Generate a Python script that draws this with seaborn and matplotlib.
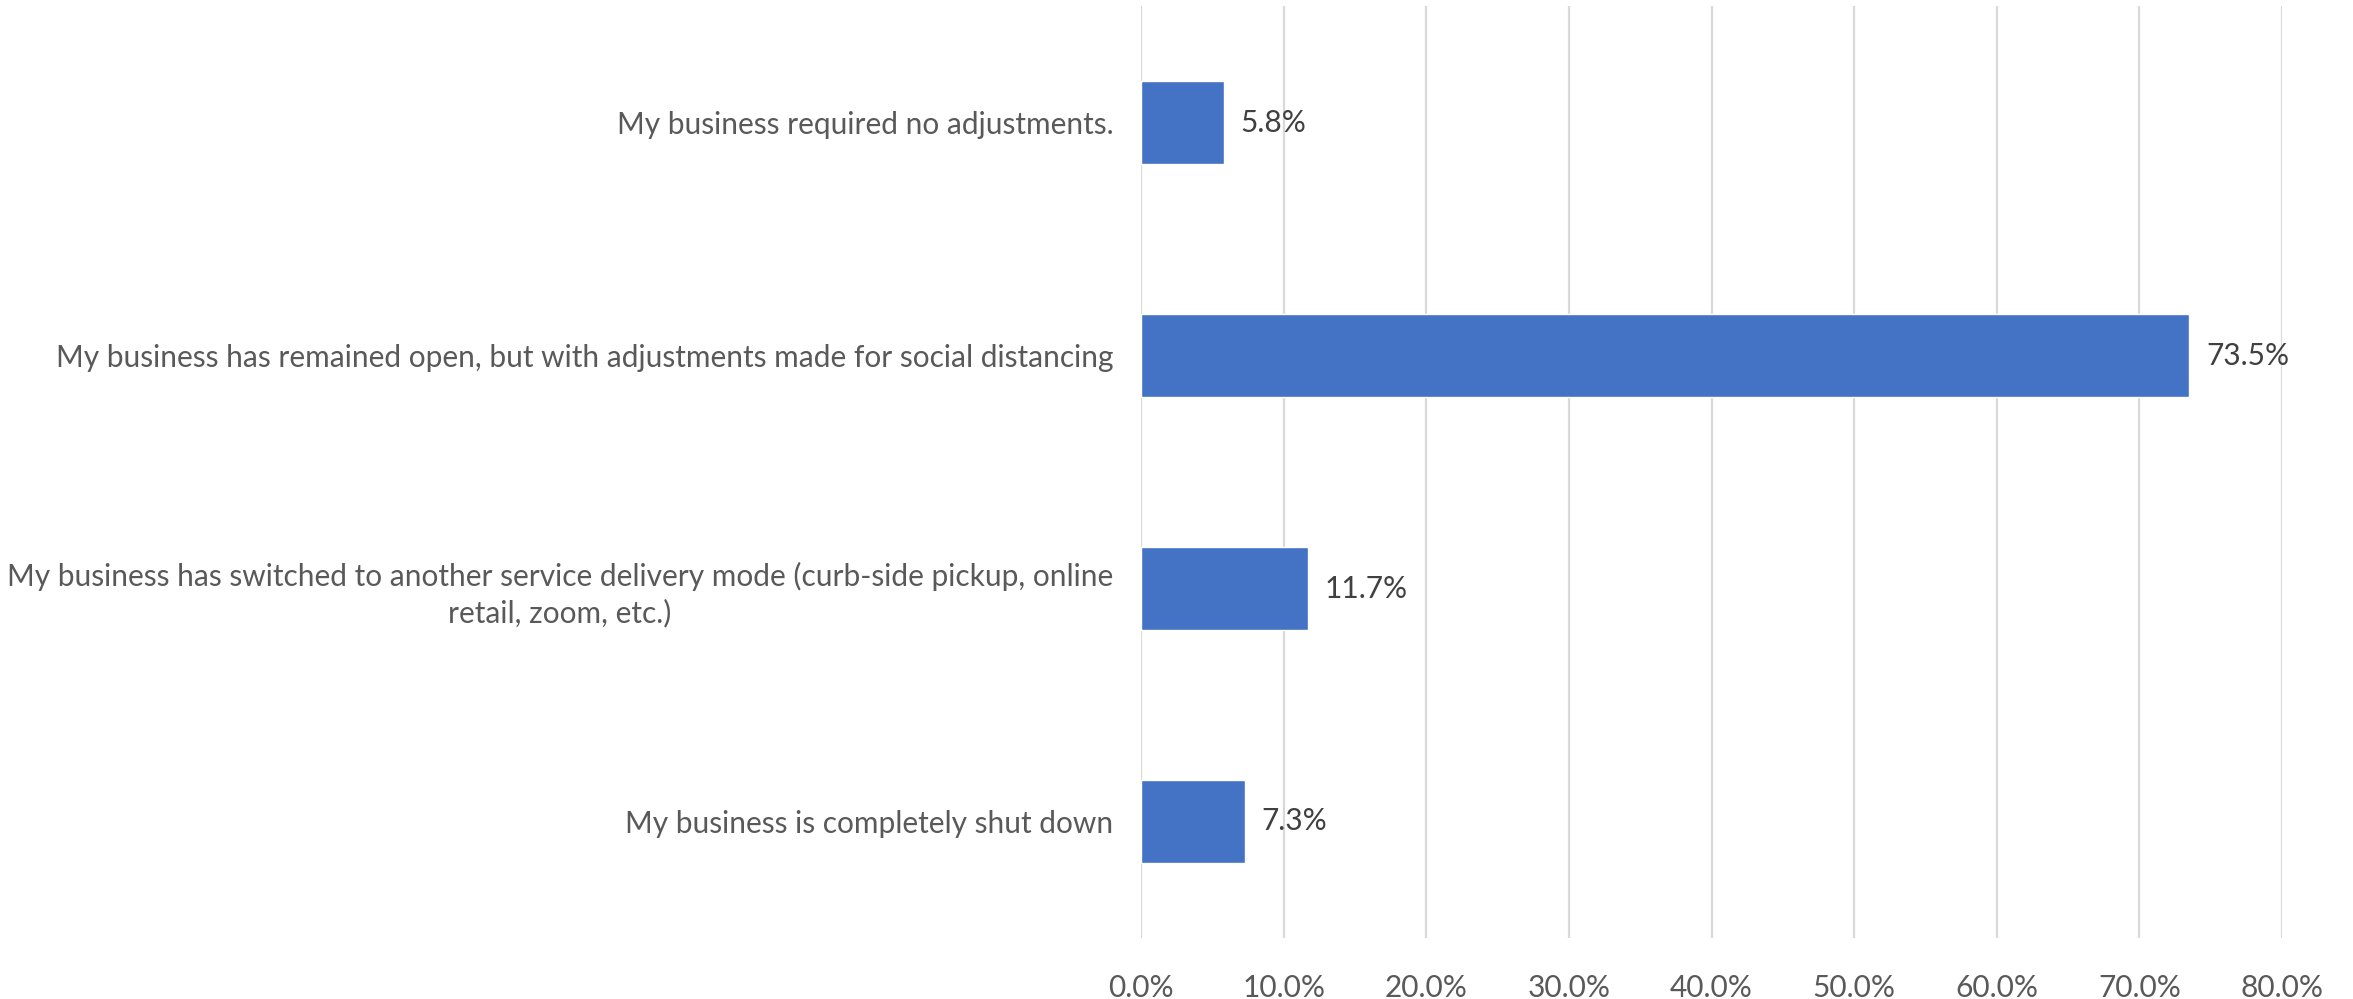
import matplotlib
matplotlib.use("Agg")
import matplotlib.pyplot as plt
import seaborn as sns
import pandas as pd
from matplotlib.ticker import FuncFormatter

categories = [
    "My business required no adjustments.",
    "My business has remained open, but with adjustments made for social distancing",
    "My business has switched to another service delivery mode (curb-side pickup, online\nretail, zoom, etc.)",
    "My business is completely shut down",
]
values = [5.8, 73.5, 11.7, 7.3]
x_ticks = [0, 10, 20, 30, 40, 50, 60, 70, 80]

df = pd.DataFrame({"category": categories, "value": values})

sns.set_theme(style="white")
plt.rcParams["font.family"] = ["Lato", "DejaVu Sans"]

fig = plt.figure(figsize=(23.53, 9.99), dpi=100)
ax = fig.add_axes([1141 / 2353, 1 - 938 / 999, (2282 - 1141) / 2353, (938 - 6) / 999])

sns.barplot(data=df, x="value", y="category", orient="h", color="#4472C4",
            width=0.356, saturation=1, ax=ax, zorder=3)

ax.set_xlim(0, 80)
ax.set_xticks(x_ticks)
ax.xaxis.set_major_formatter(FuncFormatter(lambda v, p: f"{v:.1f}%"))
ax.grid(axis="x", color="#D9D9D9", linewidth=1.6, zorder=0)
ax.grid(axis="y", visible=False)
for s in ax.spines.values():
    s.set_visible(False)
ax.set_xlabel("")
ax.set_ylabel("")

ax.tick_params(axis="x", length=0, pad=26, labelsize=21.5, labelcolor="#595959")
ax.tick_params(axis="y", length=0, pad=20, labelsize=21.5, labelcolor="#595959")
for lbl in ax.get_yticklabels():
    lbl.set_multialignment("center")
    lbl.set_linespacing(1.3)

for bar, v in zip(ax.patches, values):
    ax.annotate(f"{v:.1f}%", (bar.get_width(), bar.get_y() + bar.get_height() / 2),
                xytext=(12, 0), textcoords="offset points", va="center", ha="left",
                fontsize=21.5, color="#404040", zorder=4)

fig.savefig("out.png", dpi=100)
